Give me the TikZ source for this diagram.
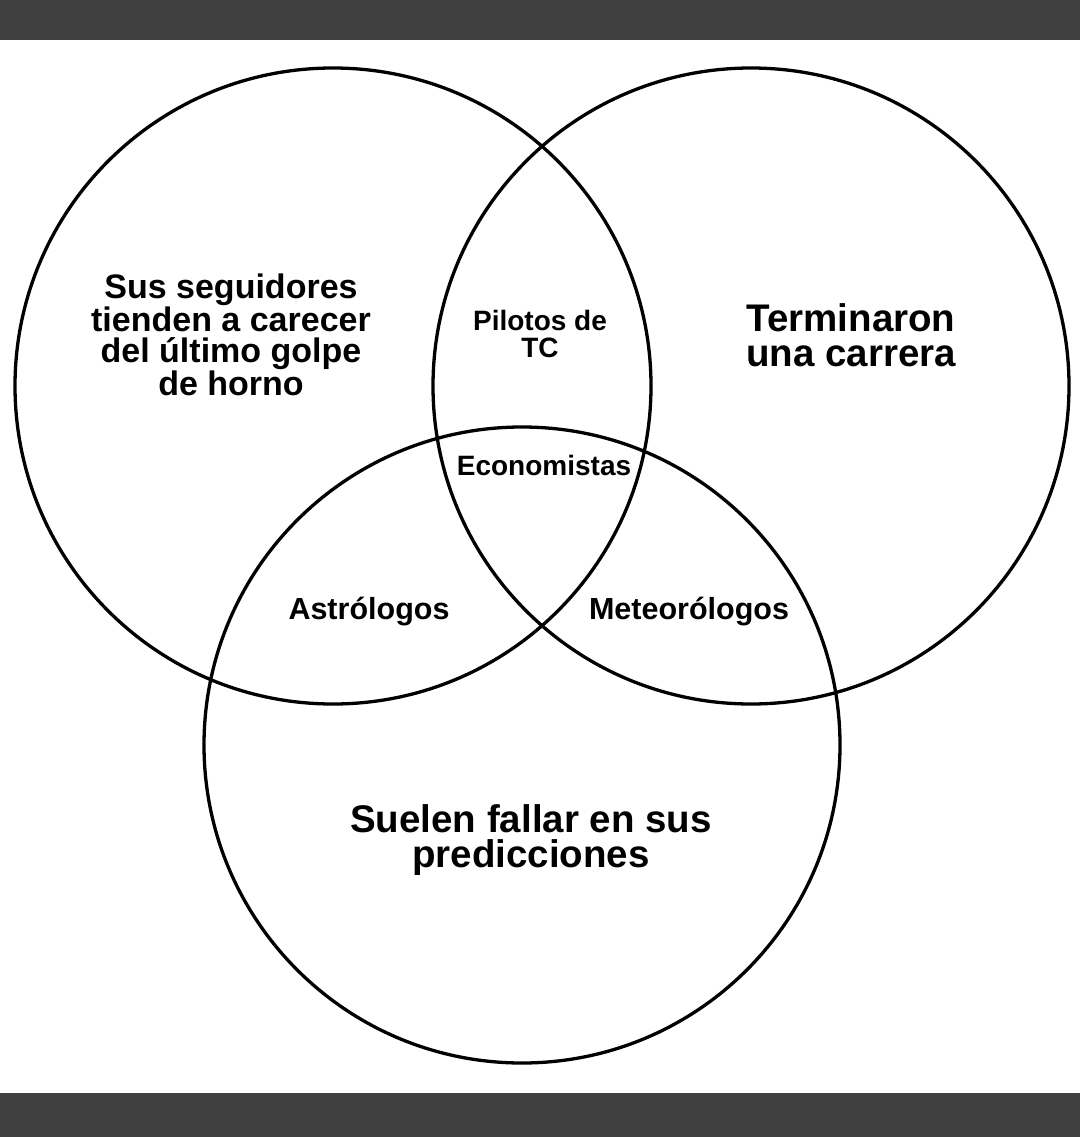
\documentclass[tikz,border=0pt]{standalone}
\usepackage{fontspec}
\setmainfont{Liberation Sans}
\definecolor{barcol}{RGB}{64,64,64}
\begin{document}
\begin{tikzpicture}[x=1pt,y=-1pt,
  venn/.style={draw=black,line width=3.3pt},
  lbl/.style={align=center,inner sep=0pt,text=black},
  big/.style={lbl,font=\fontsize{38.5}{35}\selectfont\bfseries},
  mid/.style={lbl,font=\fontsize{34}{31}\selectfont\bfseries},
  small/.style={lbl,font=\fontsize{28}{27}\selectfont\bfseries},
  smallb/.style={lbl,font=\fontsize{30.5}{27}\selectfont\bfseries}]
\fill[white] (0,0) rectangle (1080,1137);
\fill[barcol] (0,0) rectangle (1080,40);
\fill[barcol] (0,1093) rectangle (1080,1137);
\useasboundingbox (0,0) rectangle (1080,1137);
\draw[venn] (333,386) circle[radius=318];
\draw[venn] (751,386) circle[radius=318];
\draw[venn] (522,745) circle[radius=318];
\node[mid] (seg) at (231,335) {Sus seguidores\\tienden a carecer\\del último golpe\\de horno};
\node[small] (pil) at (540,334) {Pilotos de\\TC};
\node[big] (ter) at (851,335) {Terminaron\\una carrera};
\node[small] (eco) at (544,465) {Economistas};
\node[smallb] (ast) at (369,612) {Astrólogos};
\node[smallb] (met) at (689,612) {Meteorólogos};
\node[big] (sue) at (531,840) {Suelen fallar en sus\\predicciones};
\end{tikzpicture}
\end{document}
